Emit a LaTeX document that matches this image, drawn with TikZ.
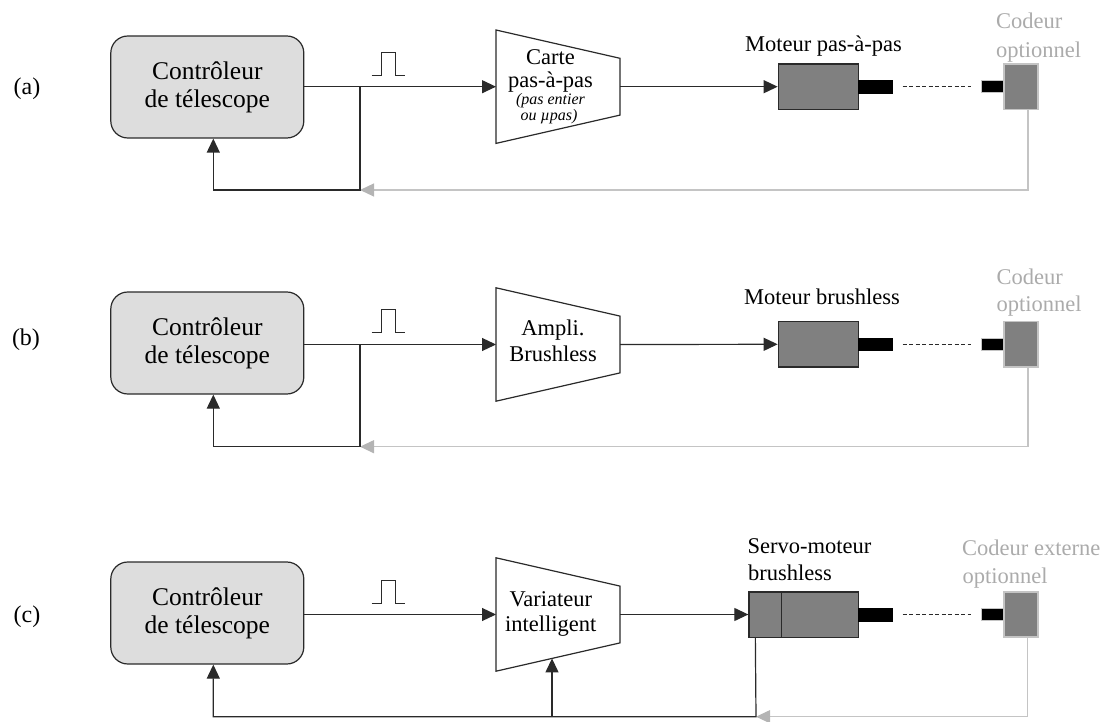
\documentclass[tikz,border=0pt]{standalone}
\usepackage{fontspec}
\setmainfont{Liberation Serif}
\usetikzlibrary{arrows.meta,calc}
\definecolor{boxfill}{HTML}{DDDDDD}
\definecolor{edgec}{HTML}{2A2A2A}
\definecolor{motfill}{HTML}{808080}
\definecolor{lgray}{HTML}{C4C4C4}
\definecolor{tgray}{HTML}{ABABAB}
\definecolor{agray}{HTML}{B4B4B4}
\begin{document}
\begin{tikzpicture}[x=1pt,y=-1pt,
  ctrl/.style={draw=edgec, line width=1.2pt, fill=boxfill, rounded corners=17pt,
    minimum width=193pt, minimum height=102pt, align=center, inner sep=0pt,
    font=\fontsize{25.5}{28}\selectfont},
  lbl/.style={font=\fontsize{22.5}{27}\selectfont, inner sep=0pt, anchor=base},
  glbl/.style={lbl, text=tgray, anchor=base west},
  tag/.style={font=\fontsize{24}{28}\selectfont, inner sep=0pt},
  small/.style={font=\fontsize{16}{16}\selectfont\itshape, inner sep=0pt, anchor=base},
  trap/.style={draw=edgec, line width=1.2pt, fill=white},
  wire/.style={draw=edgec, line width=1.2pt},
  arr/.style={wire, -{Triangle[length=14pt,width=13pt]}},
  garr/.style={draw=lgray, line width=1.2pt, -{Triangle[length=14pt,width=13pt,color=agray]}},
  pulse/.style={draw=edgec, line width=1pt},
  motor/.style={draw=edgec, line width=1.3pt, fill=motfill, minimum height=45.3pt, inner sep=0pt},
  shaft/.style={fill=black, draw=black, line width=0.5pt, minimum width=34pt, minimum height=12.6pt, inner sep=0pt},
  eshaft/.style={fill=black, draw=lgray, line width=0.8pt, minimum width=22.3pt, minimum height=12.3pt, inner sep=0pt},
  encoder/.style={draw=lgray, line width=1.5pt, fill=motfill, minimum width=33.7pt, minimum height=45.3pt, inner sep=0pt},
  link/.style={draw=edgec, line width=1pt, dash pattern=on 4pt off 2.5pt}
]
\useasboundingbox (0,0) rectangle (1104,722);

% ================= Row (a) =================
\node[tag] (tag-a) at (27,89) {(a)};
\node[ctrl] (ctl-a) at (207.3,87) {Contrôleur\\de télescope};
\coordinate (ta-tl) at (496,30);
\coordinate (ta-tr) at (620,58.3);
\coordinate (ta-br) at (620,115.1);
\coordinate (ta-bl) at (496,143.4);
\coordinate (ta-in) at (496,86.7);
\coordinate (ta-out) at (620,86.7);
\draw[trap] (ta-tl) -- (ta-tr) -- (ta-br) -- (ta-bl) -- cycle;
\node[lbl] (ta-t1) at (550.5,64.5) {Carte};
\node[lbl] (ta-t2) at (550.5,87.5) {pas-à-pas};
\node[small] (ta-t3) at (550.5,105) {(pas entier};
\node[small] (ta-t4) at (549,120.5) {ou µpas)};
\draw[pulse] (371.5,75.4) -- ++(9.5,0) -- ++(0,-23) -- ++(14,0) -- ++(0,23) -- ++(10,0);
\coordinate (ja) at (360,86.7);
\draw[arr] (ctl-a.east |- ta-in) -- (ta-in);
\node[motor, minimum width=80pt] (mot-a) at (818.3,86.7) {};
\node[shaft] (sh-a) at (875.3,86.7) {};
\node[eshaft] (es-a) at (992.9,86.7) {};
\node[encoder] (enc-a) at (1020.9,86.7) {};
\draw[arr] (ta-out) -- (mot-a.west);
\draw[link] ([xshift=10pt]sh-a.east) -- ([xshift=-10pt]es-a.west);
\node[lbl] (ml-a) at (823.5,51.7) {Moteur pas-à-pas};
\node[glbl] (cl-a1) at (996,28.3) {Codeur};
\node[glbl] (cl-a2) at (996,58) {optionnel};
\coordinate (fb-a) at (360,190);
\draw[garr] ([xshift=7pt]enc-a.south) |- (fb-a);
\draw[arr] (ja) -- (fb-a) -| ([xshift=6pt]ctl-a.south);

% ================= Row (b) =================
\node[tag] (tag-b) at (26,340) {(b)};
\node[ctrl] (ctl-b) at (207.3,343) {Contrôleur\\de télescope};
\coordinate (tb-tl) at (496,287.8);
\coordinate (tb-tr) at (620,316.1);
\coordinate (tb-br) at (620,372.9);
\coordinate (tb-bl) at (496,401.2);
\coordinate (tb-in) at (496,344.5);
\coordinate (tb-out) at (620,344.5);
\draw[trap] (tb-tl) -- (tb-tr) -- (tb-br) -- (tb-bl) -- cycle;
\node[lbl] (tb-t1) at (553,335) {Ampli.};
\node[lbl] (tb-t2) at (553,361.7) {Brushless};
\draw[pulse] (371.5,333) -- ++(9.5,0) -- ++(0,-23) -- ++(14.5,0) -- ++(0,23) -- ++(9.5,0);
\coordinate (jb) at (360,344.5);
\draw[arr] (ctl-b.east |- tb-in) -- (tb-in);
\node[motor, minimum width=80pt] (mot-b) at (818.3,344.3) {};
\node[shaft] (sh-b) at (875.3,344.3) {};
\node[eshaft] (es-b) at (992.9,344.3) {};
\node[encoder] (enc-b) at (1020.9,344.3) {};
\draw[arr] (tb-out) -- (mot-b.west);
\draw[link] ([xshift=10pt]sh-b.east) -- ([xshift=-10pt]es-b.west);
\node[lbl] (ml-b) at (822,305) {Moteur brushless};
\node[glbl] (cl-b1) at (996.5,285) {Codeur};
\node[glbl] (cl-b2) at (996.5,311.7) {optionnel};
\coordinate (fb-b) at (360,446.7);
\draw[garr] ([xshift=7pt]enc-b.south) |- (fb-b);
\draw[arr] (jb) -- (fb-b) -| ([xshift=6pt]ctl-b.south);

% ================= Row (c) =================
\node[tag] (tag-c) at (27,617) {(c)};
\node[ctrl] (ctl-c) at (207.3,613) {Contrôleur\\de télescope};
\coordinate (tc-tl) at (496,557.8);
\coordinate (tc-tr) at (620,586.1);
\coordinate (tc-br) at (620,642.9);
\coordinate (tc-bl) at (496,671.2);
\coordinate (tc-in) at (496,614.5);
\coordinate (tc-out) at (620,614.5);
\draw[trap] (tc-tl) -- (tc-tr) -- (tc-br) -- (tc-bl) -- cycle;
\node[lbl] (tc-t1) at (550.8,606) {Variateur};
\node[lbl] (tc-t2) at (550.8,631.7) {intelligent};
\draw[pulse] (371.5,603.2) -- ++(10,0) -- ++(0,-23) -- ++(13.5,0) -- ++(0,23) -- ++(10,0);
\draw[arr] (ctl-c.east |- tc-in) -- (tc-in);
\node[motor, minimum width=109.3pt] (mot-c) at (803.65,614.5) {};
\coordinate (dv-t) at (781.7,591.85);
\coordinate (dv-b) at (781.7,637.15);
\draw[draw=edgec, line width=1.3pt] (dv-t) -- (dv-b);
\node[shaft] (sh-c) at (875.3,614.5) {};
\node[eshaft] (es-c) at (992.9,614.5) {};
\node[encoder] (enc-c) at (1020.9,614.5) {};
\draw[arr] (tc-out) -- (mot-c.west);
\draw[link] ([xshift=10pt]sh-c.east) -- ([xshift=-10pt]es-c.west);
\node[lbl, anchor=base west] (ml-c1) at (747.5,553.3) {Servo-moteur};
\node[lbl, anchor=base west] (ml-c2) at (748,580) {brushless};
\node[glbl] (cl-c1) at (962,555) {Codeur externe};
\node[glbl] (cl-c2) at (962.5,583) {optionnel};
\coordinate (mc-fb) at ([xshift=7pt]mot-c.south west);
\coordinate (fb-c) at (756,716.7);
\coordinate (tc-fb) at ($(tc-bl)!0.4516!(tc-br)$);
\draw[garr] ([xshift=6.5pt]enc-c.south) |- (fb-c);
\draw[arr] (mc-fb) -- (fb-c) -| ([xshift=6pt]ctl-c.south);
\draw[arr] (tc-fb |- fb-c) -- (tc-fb);
\end{tikzpicture}
\end{document}
